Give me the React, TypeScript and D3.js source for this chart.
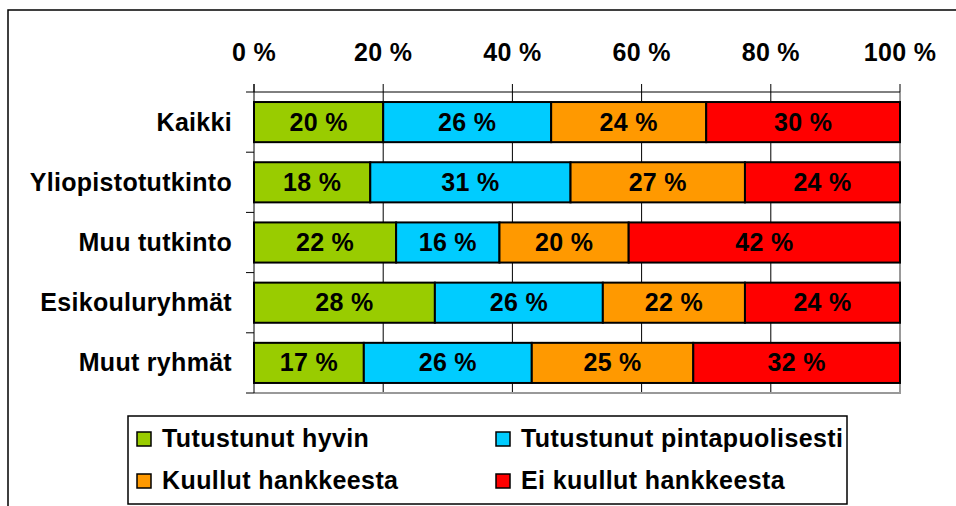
import * as React from 'react';
import {scaleBand, scaleLinear, stack} from 'd3';

const categories = ['Kaikki', 'Yliopistotutkinto', 'Muu tutkinto', 'Esikouluryhmät', 'Muut ryhmät'];
const seriesNames = ['Tutustunut hyvin', 'Tutustunut pintapuolisesti', 'Kuullut hankkeesta', 'Ei kuullut hankkeesta'];
const seriesColors = ['#99CC00', '#00CCFF', '#FF9900', '#FF0000'];

const hyvin = [20, 18, 22, 28, 17];
const pintapuolisesti = [26, 31, 16, 26, 26];
const kuullut = [24, 27, 20, 22, 25];
const eiKuullut = [30, 24, 42, 24, 32];

const tickValues = [0, 20, 40, 60, 80, 100];

const width = 956;
const height = 506;
const plotLeft = 254;
const plotRight = 900;
const plotTop = 92;
const plotBottom = 393;
const font = '"Liberation Sans", Arial, sans-serif';

const rows = categories.map((c, i) => ({
    category: c,
    s0: hyvin[i],
    s1: pintapuolisesti[i],
    s2: kuullut[i],
    s3: eiKuullut[i],
}));

const stacked = stack<any>().keys(['s0', 's1', 's2', 's3'])(rows);

const xScale = scaleLinear().domain([0, 100]).range([plotLeft, plotRight]);

const yScale = scaleBand()
    .domain(categories)
    .range([plotTop, plotBottom])
    .paddingInner(1 / 3)
    .paddingOuter(1 / 6);

const step = yScale.step();

const App = () => {
    const bandEdges = categories.map((_, i) => plotTop + i * step).concat([plotBottom]);

    return (
        <svg width={width} height={height} style={{position: 'absolute', left: 0, top: 0}}
             fontFamily={font} fontWeight="bold">
            <rect x={0} y={0} width={width} height={height} fill="#fff"/>
            {/* outer frame, runs off the right and bottom edge */}
            <rect x={8} y={10} width={1000} height={600} fill="none" stroke="#000" strokeWidth={1.5}/>

            {/* gridlines */}
            {tickValues.slice(1, -1).map(t =>
                <line key={'g' + t} x1={xScale(t)} x2={xScale(t)} y1={plotTop} y2={plotBottom}
                      stroke="#000" strokeWidth={1}/>
            )}
            <line x1={plotRight} x2={plotRight} y1={plotTop} y2={plotBottom} stroke="#999" strokeWidth={2}/>
            <line x1={plotLeft} x2={plotRight + 1} y1={plotBottom} y2={plotBottom} stroke="#999" strokeWidth={2}/>

            {/* top axis */}
            <line x1={plotLeft} x2={plotRight} y1={plotTop} y2={plotTop} stroke="#000" strokeWidth={1}/>
            {tickValues.map(t =>
                <g key={'t' + t}>
                    <line x1={xScale(t)} x2={xScale(t)} y1={plotTop - 8} y2={plotTop} stroke="#000" strokeWidth={1}/>
                    <text x={xScale(t)} y={61} textAnchor="middle" fontSize={25} letterSpacing={0.3}>{t} %</text>
                </g>
            )}

            {/* left axis */}
            <line x1={plotLeft} x2={plotLeft} y1={plotTop - 8} y2={plotBottom} stroke="#000" strokeWidth={1}/>
            {bandEdges.map((y, i) =>
                <line key={'l' + i} x1={plotLeft - 8} x2={plotLeft} y1={y} y2={y} stroke="#000" strokeWidth={1}/>
            )}
            {categories.map(c =>
                <text key={c} x={232} y={(yScale(c) as number) + yScale.bandwidth() / 2 + 8.5}
                      textAnchor="end" fontSize={25} letterSpacing={0.3}>{c}</text>
            )}

            {/* bars */}
            {stacked.map((layer, si) =>
                <g key={si}>
                    {layer.map((d, i) => {
                        const y = yScale(categories[i]) as number;
                        const x0 = xScale(d[0]);
                        const x1 = xScale(d[1]);
                        return (
                            <g key={i}>
                                <rect x={x0} y={y} width={x1 - x0} height={yScale.bandwidth()}
                                      fill={seriesColors[si]} stroke="#000" strokeWidth={2}/>
                                <text x={(x0 + x1) / 2} y={y + yScale.bandwidth() / 2 + 8.5}
                                      textAnchor="middle" fontSize={25} letterSpacing={0.3}>
                                    {d[1] - d[0]} %
                                </text>
                            </g>
                        );
                    })}
                </g>
            )}

            {/* legend */}
            <rect x={128} y={416} width={719} height={88} fill="#fff" stroke="#000" strokeWidth={1.5}/>
            {seriesNames.map((name, i) => {
                const col = i % 2;
                const row = Math.floor(i / 2);
                const sx = col === 0 ? 137 : 496;
                const cy = row === 0 ? 439 : 481;
                return (
                    <g key={name}>
                        <rect x={sx} y={cy - 7} width={14} height={14} fill={seriesColors[i]}
                              stroke="#000" strokeWidth={1.5}/>
                        <text x={sx + 25} y={cy + 8} fontSize={25} letterSpacing={0.4}>{name}</text>
                    </g>
                );
            })}
        </svg>
    );
};

export default App;
